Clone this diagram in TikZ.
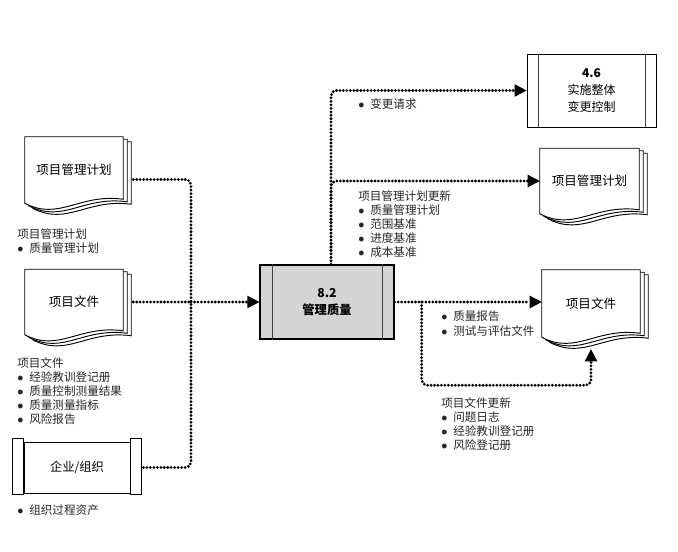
\documentclass[tikz,border=0pt]{standalone}
\usepackage{fontspec}
\setmainfont{Noto Sans CJK SC}
\usetikzlibrary{arrows.meta,positioning,calc,backgrounds}
\newcommand{\bul}{\makebox[9pt][l]{$\bullet$}}
% stacked document outline behind a named node
\newcommand{\docstack}[1]{%
  \begin{pgfonlayer}{background}
  \foreach \dx/\dy in {8/5,4/2.5,0/0}{
    \draw[docline] ([shift={(\dx,\dy)}]#1.north west) -- ([shift={(\dx,\dy)}]#1.north east)
      -- ([shift={(\dx,\dy-4)}]#1.south east)
      .. controls ($(#1.south west)!0.55!(#1.south east)+(\dx,\dy-10)$)
      and ($(#1.south west)!0.35!(#1.south east)+(\dx,\dy+18)$) .. ([shift={(\dx,\dy)}]#1.south west)
      -- cycle;
  }
  \end{pgfonlayer}}
% inner side bars of a process box
\newcommand{\sidebars}[3]{%
  \draw[barline] ([shift={(#2,0)}]#1.north west) -- ([shift={(#2,0)}]#1.south west);
  \draw[barline] ([shift={(-#3,0)}]#1.north east) -- ([shift={(-#3,0)}]#1.south east);}
\tikzset{
  docline/.style={draw=black, fill=white, line width=0.7pt},
  barline/.style={draw=black!75, line width=0.7pt},
  doclabel/.style={font=\fontsize{9.4}{11}\selectfont, minimum width=73.5pt,
    inner sep=0pt},
  procbox/.style={draw=black, line width=0.7pt, inner sep=0pt, align=center,
    font=\fontsize{9.2}{12.75}\selectfont},
  listtext/.style={anchor=north west, inner sep=0pt, align=left,
    font=\fontsize{8.7}{10.5}\selectfont, text=black!85},
  flow/.style={draw=black, line width=2.3pt, dash pattern=on 0pt off 2.6pt,
    line cap=round, rounded corners=4pt},
  tip/.style={-{Triangle[length=9pt,width=9.5pt,line width=0pt]}}
}
\begin{document}
\begin{tikzpicture}[x=0.75pt,y=-0.75pt]
\useasboundingbox (0,0) rectangle (678,552);

% inputs
\node[doclabel, minimum height=49.5pt] (planIn) at (74,170) {项目管理计划};
\docstack{planIn}
\node[listtext] (lblPlanIn) at (17,228) {项目管理计划\\\bul 质量管理计划};

\node[doclabel, minimum height=48.75pt] (docsIn) at (74,302) {项目文件};
\docstack{docsIn}
\node[listtext] (lblDocsIn) at (17,357) {项目文件\\\bul 经验教训登记册\\\bul 质量控制测量结果\\\bul 质量测量指标\\\bul 风险报告};

\node[procbox, minimum width=79.5pt, minimum height=38.25pt] (ent) at (77,467.5) {企业/组织};
\draw[docline] ([shift={(-11,-3)}]ent.north west) rectangle ([shift={(0,1)}]ent.south west);
\draw[docline] ([shift={(0,-3)}]ent.north east) rectangle ([shift={(11,1)}]ent.south east);
\node[listtext] (lblOpa) at (17,504) {\bul 组织过程资产};

% process
\node[procbox, line width=1pt, fill=black!17, minimum width=100.5pt, minimum height=55.5pt] (qm) at (327,302)
  {\textbf{8.2}\\\textbf{管理质量}};
\sidebars{qm}{13}{12}

% outputs
\node[procbox, fill=white, minimum width=96.75pt, minimum height=54.75pt,
  font=\fontsize{9}{12.75}\selectfont] (cc) at (591.5,90.5)
  {\textbf{4.6}\\实施整体\\变更控制};
\sidebars{cc}{12}{11}
\node[listtext] (lblCR) at (358,98) {\bul 变更请求};

\node[doclabel, minimum height=48.75pt, minimum width=74.25pt] (planOut) at (589.5,181) {项目管理计划};
\docstack{planOut}
\node[listtext] (lblPlanUp) at (358,190) {项目管理计划更新\\\bul 质量管理计划\\\bul 范围基准\\\bul 进度基准\\\bul 成本基准};

\node[doclabel, minimum height=50.25pt] (docsOut) at (591,303.5) {项目文件};
\docstack{docsOut}
\node[listtext, font=\fontsize{8.7}{11.25}\selectfont] (lblRep) at (441,310) {\bul 质量报告\\\bul 测试与评估文件};
\node[listtext] (lblDocsUp) at (441,397) {项目文件更新\\\bul 问题日志\\\bul 经验教训登记册\\\bul 风险登记册};

% connectors
\coordinate (join) at (191,302);
\coordinate (split) at ($(qm.east)+(27,0)$);
\draw[flow] ([shift={(10,9.5)}]planIn.east) -| (join);
\draw[flow] ([shift={(10,0)}]docsIn.east) -- (join);
\draw[flow] ([shift={(13,0)}]ent.east) -| (join);
\draw[flow, tip] (join) -- (qm.west);

\draw[flow, tip] ([shift={(4,0)}]qm.north) |- (cc.west);
\draw[flow, tip] ([shift={(4,0)}]qm.north) |- (planOut.west);

\draw[flow, tip] (qm.east) -- (qm.east -| docsOut.west);
\draw[flow, tip] (split) |- ([shift={(0,48)}]docsOut.south) -- ([shift={(0,12)}]docsOut.south);

\end{tikzpicture}
\end{document}
